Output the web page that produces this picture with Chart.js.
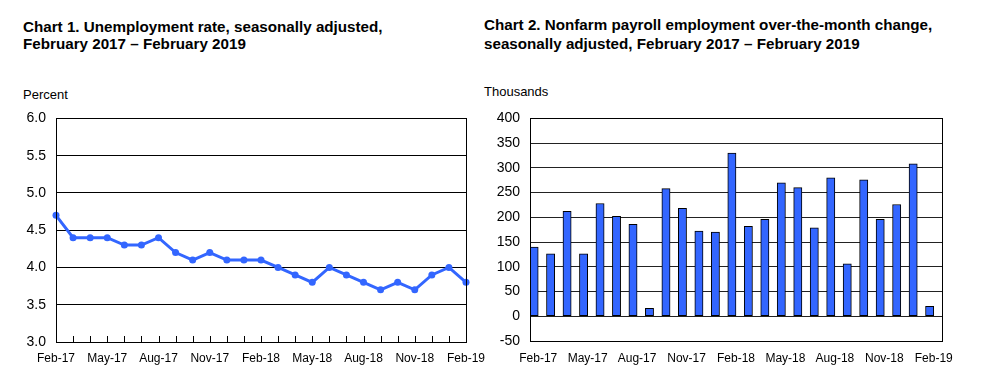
<!DOCTYPE html>
<html>
<head>
<meta charset="utf-8">
<script src="https://cdn.jsdelivr.net/npm/chart.js@4/dist/chart.umd.min.js"></script>
<style>
  body { margin: 0; background: #fff; width: 982px; height: 382px; position: relative; overflow: hidden; font-family: "Liberation Sans", Arial, sans-serif; color: #000; }
  .title { position: absolute; font-weight: bold; font-size: 15.2px; white-space: nowrap; }
  .unit { position: absolute; font-size: 13px; line-height: 13px; white-space: nowrap; }
  canvas { position: absolute; }
</style>
</head>
<body>
<div class="title" style="left:23px; top:18px; line-height:17px;">Chart 1. Unemployment rate, seasonally adjusted,<br>February 2017 – February 2019</div>
<div class="title" style="left:484px; top:16px; line-height:18.5px;">Chart 2. Nonfarm payroll employment over-the-month change,<br>seasonally adjusted, February 2017 – February 2019</div>
<div class="unit" style="left:23px; top:88px;">Percent</div>
<div class="unit" style="left:484px; top:85px;">Thousands</div>
<canvas id="rateChart" width="490" height="280" style="left:0; top:100px;"></canvas>
<canvas id="payrollChart" width="492" height="280" style="left:490px; top:100px;"></canvas>
<script>
// monthly categories, Feb 2017 - Feb 2019
const months = ['Feb-17', 'Mar-17', 'Apr-17', 'May-17', 'Jun-17', 'Jul-17', 'Aug-17', 'Sep-17', 'Oct-17', 'Nov-17', 'Dec-17', 'Jan-18',
                'Feb-18', 'Mar-18', 'Apr-18', 'May-18', 'Jun-18', 'Jul-18', 'Aug-18', 'Sep-18', 'Oct-18', 'Nov-18', 'Dec-18', 'Jan-19', 'Feb-19'];

// unemployment rate, percent
const unemploymentRate = [4.7, 4.4, 4.4, 4.4, 4.3, 4.3, 4.4, 4.2, 4.1, 4.2, 4.1, 4.1,
                          4.1, 4.0, 3.9, 3.8, 4.0, 3.9, 3.8, 3.7, 3.8, 3.7, 3.9, 4.0, 3.8];

// payroll change, thousands
const payrollChange = [140, 126, 212, 126, 228, 202, 186, 16, 258, 218, 172, 170,
                       330, 182, 196, 270, 260, 179, 280, 106, 276, 196, 226, 308, 20];

const rateTicks = { min: 3.0, max: 6.0, step: 0.5 };
const payrollTicks = { min: -50, max: 400, step: 50 };

const blue = '#3366FF';
const fontName = '"Liberation Sans", Arial, sans-serif';

// box around the plot area, and small month ticks on the bottom edge
const frame = {
    id: 'frame',
    afterDraw(chart, args, opts) {
        const ctx = chart.ctx;
        const a = chart.chartArea;
        ctx.save();
        ctx.strokeStyle = '#000';
        ctx.lineWidth = 1;
        if (opts.monthTicks) {
            const x = chart.scales.x;
            ctx.beginPath();
            for (let i = 0; i < months.length; i++) {
                const px = Math.round(x.getPixelForValue(i)) + 0.5;
                ctx.moveTo(px, a.bottom);
                ctx.lineTo(px, a.bottom - 6);
            }
            ctx.stroke();
        }
        ctx.strokeRect(Math.round(a.left) + 0.5, Math.round(a.top) + 0.5,
                       Math.round(a.right - a.left), Math.round(a.bottom - a.top));
        ctx.restore();
    }
};

Chart.defaults.font.family = fontName;
Chart.defaults.color = '#000';

new Chart(document.getElementById('rateChart'), {
    type: 'line',
    data: {
        labels: months,
        datasets: [{
            data: unemploymentRate,
            borderColor: blue,
            backgroundColor: blue,
            borderWidth: 3,
            pointRadius: 3.5,
            pointBorderWidth: 0,
            tension: 0
        }]
    },
    options: {
        responsive: false,
        animation: false,
        layout: { padding: { top: 16, right: 24, left: 0, bottom: 0 } },
        plugins: { legend: { display: false }, tooltip: { enabled: false }, frame: { monthTicks: true } },
        scales: {
            x: {
                offset: false,
                grid: { display: false, drawTicks: false },
                border: { display: false },
                ticks: {
                    autoSkip: false, maxRotation: 0, padding: 9, font: { size: 12 },
                    callback: (v, i) => (i % 3 === 0 ? months[i] : '')
                },
                afterFit: s => { s.height = 38; s.paddingLeft = 0; s.paddingRight = 0; }
            },
            y: {
                min: rateTicks.min, max: rateTicks.max,
                grid: { color: '#000', lineWidth: 1, drawTicks: false },
                border: { display: false },
                ticks: { stepSize: rateTicks.step, padding: 10, font: { size: 14 }, callback: v => v.toFixed(1) },
                afterFit: s => { s.width = 56; }
            }
        }
    },
    plugins: [frame]
});

new Chart(document.getElementById('payrollChart'), {
    type: 'bar',
    data: {
        labels: months,
        datasets: [{
            data: payrollChange,
            backgroundColor: blue,
            borderColor: '#000',
            borderWidth: 1,
            borderSkipped: false
        }, {
            // empty spacer so each bar sits in the left half of its month
            data: months.map(() => null)
        }]
    },
    options: {
        responsive: false,
        animation: false,
        layout: { padding: { top: 16, right: 40, left: 0, bottom: 0 } },
        datasets: { bar: { categoryPercentage: 1, barPercentage: 1 } },
        plugins: { legend: { display: false }, tooltip: { enabled: false }, frame: { monthTicks: false } },
        scales: {
            x: {
                grid: { display: false, drawTicks: false },
                border: { display: false },
                ticks: {
                    autoSkip: false, maxRotation: 0, padding: 10, font: { size: 12 },
                    callback: (v, i) => (i % 3 === 0 ? months[i] : '')
                },
                afterFit: s => { s.height = 39; s.paddingLeft = 0; s.paddingRight = 0; }
            },
            y: {
                min: payrollTicks.min, max: payrollTicks.max,
                grid: { color: '#222', lineWidth: 1, drawTicks: false },
                border: { display: false },
                ticks: { stepSize: payrollTicks.step, padding: 10, font: { size: 14 } },
                afterFit: s => { s.width = 40; }
            }
        }
    },
    plugins: [frame]
});
</script>
</body>
</html>
